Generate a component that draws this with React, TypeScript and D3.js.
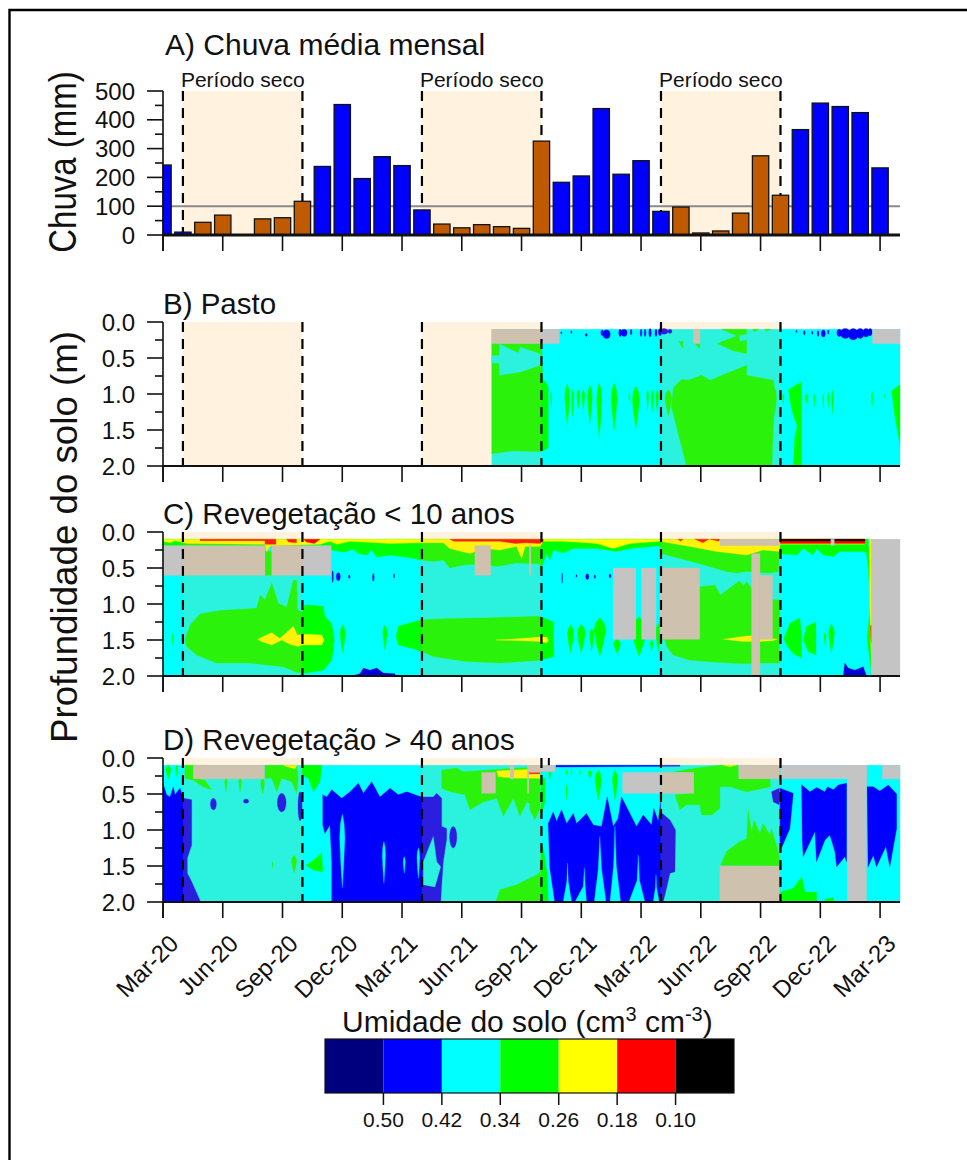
import React from "react";
import * as d3 from "d3";

// ---------- Rainfall (mm), one value per month from Mar-20 (month 0) ----------
const rainValues = [243,10,44,69,0,56,60,117,238,453,196,272,241,87,38,25,36,29,23,326,183,205,439,211,258,82,97,7,14,76,275,138,366,458,446,425,233];
const dryFlags = [0,0,1,1,1,1,1,1,0,0,0,0,0,0,1,1,1,1,1,1,0,0,0,0,0,0,1,1,1,1,1,1,0,0,0,0,0];
const rainTicks = [0,100,200,300,400,500];
const rainMinor = [50,150,250,350,450];
const depthTicks = [0,0.5,1,1.5,2];
const depthMinor = [0.25,0.75,1.25,1.75];
const monthTicks = [0,3,6,9,12,15,18,21,24,27,30,33,36];
const monthLabels = ["Mar-20","Jun-20","Sep-20","Dec-20","Mar-21","Jun-21","Sep-21","Dec-21","Mar-22","Jun-22","Sep-22","Dec-22","Mar-23"];
const dryPeriods = [[1,7],[13,19],[25,31]];
const legendColors = ["#00007F","#0000FF","#00FFFF","#00FF00","#FFFF00","#FF0000","#000000"];
const legendLabels = ["0.50","0.42","0.34","0.26","0.18","0.10"];

const BLUE="#0000FF", CYAN="#00FFFF", GREEN="#00FF00", YELLOW="#FFFF00", RED="#FF0000", BLACK="#000000", GREY="#C4C4C4", DBLUE="#0000D8";

type Layer = { c: string; polys?: number[][]; spindles?: number[][]; blobs?: number[][]; rects?: number[][] };

// ---------- B) Pasto: polygons are [month, depth, ...]; spindles [month, top, bottom, half width]; blobs [month, depth, rx, ry]; rects [m0, m1, d0, d1] ----------
const pastoGreenPolys = [
  [16.51,.3,19.0,.3,19.06,.78,19.34,.9,19.34,1.75,19.0,1.8,17.58,1.79,16.51,1.83],
  [25.62,.91,26.03,.8,26.37,.81,27.04,.74,27.46,.81,29.3,.6,29.3,.74,30.64,.81,30.72,.94,30.57,2,26.28,2,25.53,1.18],
  [28.04,.1,29.3,.1,29.3,.17,28.79,.19],
  [27.82,.3,28.93,.18,28.96,.27,29.3,.25,29.3,.44,28.63,.4],
  [25.9,.27,26.1,.27,26.1,.37],[26.7,.3,26.95,.3,26.95,.37],
  [29.6,.1,29.9,.1,29.7,.14],[30.2,.1,30.5,.1,30.3,.13],
  [31.39,.94,32.06,.83,32.06,2,31.64,2,31.72,1.59,31.84,1.45,31.56,1.22],
  [36.58,.96,36.96,.875,37,.875,37,1.7,36.74,1.31],
];
const pastoCyanPolys = [[16.51,.47,16.88,.47,16.91,.31,17.83,.43,17.95,.35,18.92,.44,19.0,.57,18.92,.6,18.0,.69,16.91,.74,16.88,.57,16.51,.57]];
const pastoSpindles = [[20.29,.86,1.43,.12],[20.56,.94,1.31,.05],[20.85,.94,1.2,.08],[21.1,.94,1.22,.07],[21.43,.875,1.41,.12],[21.9,.84,1.62,.13],[22.65,.85,1.5,.15],[23.74,.89,1.48,.18],[24.33,.94,1.22,.05],[24.56,.94,1.25,.05],[24.81,.94,1.25,.07],[19.49,.97,1.18,.03],[23.41,.99,1.11,.03],[25.37,.94,1.31,.17],[30.72,.92,1.3,.08],[31.14,1.0,1.14,.04],[32.31,1.0,1.13,.08],[32.69,1.0,1.18,.03],[33.15,1.0,1.2,.03],[33.4,.98,1.18,.03],[33.61,.95,1.27,.04],[35.6,.97,1.18,.03],[36.24,1.0,1.06,.02]];
const pastoBlueBlobs = [[20.0,.15,.03,.015],[20.5,.14,.03,.02],[21.25,.18,.05,.02],[22.05,.15,.07,.04],[22.27,.17,.18,.06],[22.95,.15,.07,.05],[23.15,.15,.15,.05],[23.5,.14,.04,.04],[24.0,.15,.04,.05],[24.2,.15,.04,.05],[24.45,.15,.06,.06],[24.75,.15,.05,.05],[24.95,.14,.08,.05],[25.15,.13,.2,.04],[25.45,.13,.1,.03],[31.8,.13,.03,.015],[32.2,.15,.04,.03],[32.6,.15,.03,.02],[32.89,.16,.04,.04],[33.15,.16,.1,.05],[33.4,.14,.03,.03],[33.95,.15,.12,.05],[34.25,.16,.25,.07],[34.65,.17,.25,.08],[35.0,.16,.2,.07],[35.3,.15,.15,.06],[35.5,.14,.1,.05]];
const pastoGreyRects = [[16.51,19.89,.1,.3],[26.62,26.96,.1,.3],[35.62,37,.1,.3]];
const pastoLayers: Layer[] = [
  {c:CYAN,rects:[[16.51,37,.1,2]]},
  {c:GREEN,polys:pastoGreenPolys},{c:CYAN,polys:pastoCyanPolys},{c:GREEN,spindles:pastoSpindles},
  {c:BLUE,blobs:pastoBlueBlobs},{c:GREY,rects:pastoGreyRects},
];

// ---------- C) Revegetação < 10 anos ----------
const c10TopGreen = [[0,.1,35.4,.1,35.4,.3,35.15,.27,33.98,.27,33.65,.34,33.15,.32,32.81,.23,32.64,.32,32.14,.23,31.81,.32,30.94,.3,30.89,.55,30.47,.57,29.3,.55,28.79,.57,28.29,.55,26.95,.44,25.03,.3,24.95,.19,23.44,.23,22.77,.27,21.77,.23,20.6,.23,20.09,.29,19.59,.25,19.42,.39,19.26,.3,18.92,.55,18.92,.44,17.75,.43,16.75,.48,16.08,.44,15.08,.46,14.4,.5,14.07,.39,13.57,.41,12.98,.39,12.23,.35,11.4,.32,10.73,.35,10.47,.25,10.22,.32,9.8,.3,9.55,.24,9.05,.28,8.47,.25,8.47,.19,0,.19]];
const c10TopYellow = [[0,.1,35.24,.1,35.24,.17,30.97,.17,30.94,.27,30.13,.25,29.3,.32,27.79,.27,26.45,.2,24.95,.13,23.44,.16,22.6,.23,21.77,.16,20.09,.13,19.09,.13,18.92,.2,18.18,.2,18.0,.37,17.75,.2,16.92,.25,16.08,.23,15.41,.3,14.4,.23,14.07,.15,12.98,.15,11.4,.16,9.39,.13,8.72,.17,8.38,.13,7.88,.17,5.4,.19,5.2,.27,5.12,.17,1.19,.16,.6,.12,.35,.15,0,.13]];
const c10TopRed = [[1.86,.1,5.67,.1,5.67,.17,5.12,.17,5.12,.12,1.86,.12],[6.2,.1,6.7,.1,6.7,.15,6.3,.14],[7.05,.1,7.88,.1,7.6,.16,7.2,.14],[14.4,.1,18.92,.1,18.92,.16,18.2,.15,17.7,.16,16.9,.13,14.6,.13],[18.92,.1,19.09,.1,19.09,.13,18.92,.16],[25.85,.1,26.1,.1,26.0,.13],[26.7,.1,27.4,.1,27.1,.15],[27.45,.1,27.96,.1,27.9,.13],[30.97,.1,35.24,.1,35.24,.16,30.97,.16],[35.52,1.3,35.57,1.3,35.57,1.55,35.54,1.5]];
const c10TopBlack = [[30.97,.1,35.24,.1,35.24,.125,30.97,.125]];
const c10GreenPolys = [
  [1.1,1.5,1.36,1.29,1.86,1.14,2.86,1.09,4.7,1.06,4.87,.875,5.12,.94,5.46,.71,5.79,.99,6.21,1.04,6.54,.67,6.71,.67,6.74,1.08,6.98,1.11,7.13,1.01,8.05,1.03,8.13,1.18,8.47,1.27,8.6,1.5,8.47,1.78,8.05,1.92,7.21,1.96,6.71,1.95,6.04,1.87,4.37,1.82,2.69,1.82,1.69,1.71,1.19,1.59],
  [11.7,1.45,11.81,1.31,12.3,1.27,12.98,1.22,14.41,1.2,16.42,1.19,18.92,1.17,19.59,1.25,19.63,1.73,18.92,1.78,16.92,1.82,15.24,1.8,13.57,1.73,12.98,1.66,12.57,1.62,11.81,1.57],
  [24.95,1.49,26.95,.76,27.71,.74,27.99,.875,28.93,.68,29.16,.74,29.3,.69,29.55,.78,30.6,.94,30.94,.94,30.94,1.82,29.97,1.82,29.13,1.83,27.79,1.81,26.45,1.78,25.62,1.71,25.28,1.59,25.2,1.49],
  [31.17,1.48,31.47,1.27,31.97,1.19,32.06,1.45,32.06,1.75,31.64,1.69,31.3,1.57],
  [32.14,1.5,32.31,1.31,32.78,1.25,32.78,1.71,32.39,1.66],
  [35.32,.3,35.4,.48,35.52,1.04,35.35,1.45,35.52,1.87,35.57,2,35.57,.1],
];
const c10Spindles = [[9.02,1.29,1.68,.13],[11.14,1.29,1.64,.11],[.47,1.41,1.57,.03],[20.46,1.29,1.68,.16],[21,1.28,1.68,.2],[21.52,1.34,1.66,.1],[21.93,1.19,1.73,.3],[22.8,1.49,1.69,.18],[23.9,1.18,1.73,.4],[24.53,1.5,1.66,.07],[24.86,1.27,1.66,.13],[33.23,1.4,1.57,.05],[33.56,1.28,1.68,.15]];
const c10YellowPolys = [
  [4.75,1.49,5.04,1.45,5.46,1.4,5.87,1.48,6.54,1.31,6.74,1.43,7.21,1.42,7.97,1.43,8.08,1.5,7.97,1.57,6.96,1.57,6.79,1.59,6.38,1.56,5.96,1.5,5.46,1.57,4.95,1.52],
  [16.7,1.5,18.0,1.48,18.92,1.46,19.26,1.46,19.35,1.5,19.26,1.54,18.92,1.52,18.0,1.51],
  [28.13,1.49,29.13,1.45,29.55,1.44,30.84,1.49,30.6,1.51,29.97,1.52,29.13,1.52],
  [35.45,.1,35.57,.1,35.57,1.95,35.52,1.45,35.49,1.04],
];
const c10BluePolys = [[9.47,2,9.89,1.97,10.06,1.89,10.39,1.92,10.73,1.89,11.06,1.96,11.65,1.97,11.65,2],[34.15,2,34.23,1.82,34.4,1.89,34.73,1.92,35.15,1.87,35.32,2]];
const c10BlueBlobs = [[8.52,.62,.03,.08],[8.8,.62,.1,.055],[9.35,.62,.04,.025],[10.56,.63,.04,.055],[11.6,.61,.025,.03],[20.04,.64,.015,.07],[21.3,.62,.08,.04],[21.68,.62,.04,.025],[22.44,.61,.05,.025],[20.76,.61,.03,.015]];
const c10GreyRects = [[0,5.12,.19,.6],[5.46,8.43,.19,.6],[15.66,16.45,.19,.6],[18.39,18.47,.19,.6],[22.6,23.74,.5,1.49],[24.03,24.75,.5,1.49],[24.95,26.95,.5,1.49],[27.96,30.94,.1,.19],[29.55,29.97,.3,2],[29.97,30.6,.6,1.49],[35.57,37,.1,2],[33.53,33.7,.1,.19]];
const c10GapGreen = [[5.12,5.46,.27,.6]];
const c10Layers: Layer[] = [
  {c:CYAN,rects:[[0,35.6,.1,2]]},
  {c:GREEN,polys:c10GreenPolys},{c:GREEN,spindles:c10Spindles},{c:YELLOW,polys:c10YellowPolys},
  {c:DBLUE,polys:c10BluePolys},{c:BLUE,blobs:c10BlueBlobs},
  {c:GREEN,polys:c10TopGreen},{c:GREEN,rects:c10GapGreen},{c:YELLOW,polys:c10TopYellow},{c:RED,polys:c10TopRed},{c:BLACK,polys:c10TopBlack},
  {c:GREY,rects:c10GreyRects},
];

// ---------- D) Revegetação > 40 anos ----------
const c40BluePolys = [
  [0,.35,.18,.51,.35,.54,.52,.4,.6,.51,.85,.42,1.02,.56,1.44,.58,1.44,1.21,1.22,1.39,1.22,1.6,1.44,1.72,1.89,2,0,2],
  [8.02,.51,8.22,.54,8.47,.44,8.97,.56,9.39,.47,9.81,.35,10.06,.49,10.48,.33,10.89,.54,11.4,.42,11.81,.51,12.23,.47,12.98,.54,13.57,.54,13.74,.49,13.99,.56,13.99,.95,14.24,.98,14.24,1.12,14.07,1.44,13.99,1.76,13.94,2,8.47,2,8.47,1.46,8.38,.93,8.13,1.05,8.02,.93],
  [19.34,.91,19.59,.75,19.76,.88,20.01,.72,20.26,.91,20.6,.77,20.76,.91,21.26,.77,21.6,.93,22.02,.95,22.3,.54,22.6,.95,22.85,.84,23.02,.54,23.77,.95,24.11,.79,24.53,.93,24.64,.7,24.86,.88,24.98,.61,24.98,2,19.67,2,19.42,1.53],
  [24.98,.75,25.45,.86,25.73,1.0,25.7,1.58,25.45,1.6,25.28,1.81,25.11,2,24.98,2],
  [30.55,.47,30.94,.42,30.94,.65,30.64,.61],
  [30.97,.42,31.64,.49,31.47,.98,31.05,1.25,30.97,1.16],
  [32.06,.37,32.48,.47,32.81,.41,33.23,.47,33.36,.4,33.65,.44,33.9,.375,34.32,.35,34.32,1.44,34.23,1.37,33.82,1.51,33.73,1.3,33.48,1.07,33.23,1.14,32.81,1.44,32.73,1.02,32.14,1.37,32.09,1.12],
  [35.35,.4,35.66,.4,35.99,.46,36.41,.375,36.83,.5,36.83,.98,36.49,1.51,36.29,1.23,35.82,1.51,35.66,1.35,35.4,1.51],
  [19.73,.1,25.95,.1,25.95,.115,19.73,.125],
];
const c40BlueBlobs = [[2.53,.64,.15,.08],[4.17,.6,.13,.03],[5.96,.62,.22,.13],[6.88,.67,.1,.2],[14.57,1.1,.18,.15],[26.7,.31,.04,.05],[27.12,.31,.09,.08],[27.37,.31,.07,.055],[27.59,.31,.05,.012]];
const c40CyanSpindles = [[9.0,.78,1.8,.13],[11.09,1.16,1.74,.08],[12.11,1.37,1.6,.05],[12.82,1.25,1.67,.07]];
const c40CyanPolys = [
  [13.07,1.76,13.07,1.44,13.57,1.09,13.74,1.44,13.94,1.51,13.65,1.79],
  [20.09,2,20.27,1.72,20.31,1.46,20.35,1.72,20.51,2],
  [20.68,2,21.1,1.78,21.15,1.53,21.2,1.78,21.26,2],
  [21.65,2,21.85,1.55,21.93,1.09,22.02,1.55,22.24,2],
  [22.44,2,22.62,1.5,22.69,.95,22.76,1.5,22.97,2],
  [23.39,2,23.8,1.7,23.86,1.35,23.92,1.7,24.19,2],
  [24.61,2,24.72,1.8,24.75,1.62,24.78,1.8,24.91,2],
];
const c40GreenPolys = [
  [1.1,.1,1.52,.1,1.52,.28,2.11,.31,2.44,.44,2.02,.4,1.52,.31,1.1,.28],
  [5.12,.1,6.71,.1,6.79,.28,6.71,.49,6.46,.33,5.96,.28,5.71,.47,5.46,.28,5.12,.28],
  [6.98,.1,7.97,.1,7.88,.33,7.55,.47,7.3,.28,6.98,.24],
  [7.18,1.49,7.55,1.42,7.97,1.32,8.02,1.58,7.55,1.56],
  [13.99,.17,14.74,.14,15.08,.19,18.92,.12,18.92,.7,18.26,.61,17.92,.81,17.59,.56,17.09,.81,16.75,.56,16.08,.61,15.41,.72,15.16,.51,14.41,.47,13.99,.42],
  [16.7,2,16.92,1.83,17.75,1.76,18.92,1.6,19.0,1.2,19.09,1.25,19.29,1.62,19.34,2],
  [18.42,.28,18.92,.28,18.92,.7,18.67,.86,18.42,.72],
  [18.97,.28,19.17,.28,19.17,.61,18.97,.84],
  [25.62,.19,26.79,.14,27.96,.1,28.88,.1,28.91,.29,30.47,.29,30.5,.4,29.3,.47,28.46,.4,27.96,.4,27.96,.7,27.54,.79,27.04,.79,26.95,.65,26.28,.65,25.95,.72,25.7,.51,26.65,.49,26.65,.2],
  [27.99,1.49,28.29,1.3,28.96,1.16,29.3,1.12,29.38,.72,29.55,1.02,29.67,.86,29.97,1.05,30.13,.91,30.47,1.07,30.55,.98,30.94,1.35,30.94,1.5],
  [31,1.86,31.64,1.81,32.06,1.65,32.23,1.86,32.81,1.86,32.81,2,31,2],
  [33.23,1.96,33.65,1.94,33.65,2,33.23,2],
];
const c40GreenSpindles = [[.27,.1,.29,.13],[.69,.1,.26,.05],[3.16,.28,.47,.06],[3.87,.28,.47,.07],[5,.28,.5,.1],[5.5,1.44,1.53,.03],[6.58,1.35,1.6,.13],[20.26,.37,.58,.03],[21.85,.17,.58,.16],[22.69,.17,.58,.13],[21.43,.17,.28,.08],[20.26,.17,.24,.03],[20.51,.17,.24,.03],[20.93,.17,.24,.03],[19.42,.17,.3,.05]];
const c40YellowPolys = [[6.04,.1,6.71,.1,6.63,.15,6.21,.12],[16.75,.18,18.92,.15,18.92,.28,17.75,.28,16.83,.26],[18.42,.2,18.92,.2,18.92,.28,18.42,.26],[28.13,.1,28.79,.1,28.46,.12]];
const c40RedPolys = [[18.34,.19,18.92,.19,18.92,.22,18.34,.22]];
const c40GreyRects = [[1.52,5.09,.1,.29],[16,16.7,.2,.49],[17.42,17.62,.1,.29],[18.29,18.92,.1,.2],[18.29,18.37,.2,.49],[18.42,19.68,.1,.19],[23.07,24.98,.2,.49],[24.98,26.65,.2,.49],[28.91,30.94,.1,.29],[27.96,30.94,1.5,2],[31,35.32,.1,.29],[34.35,35.32,.1,2],[36.12,37,.1,.29]];
const c40Layers: Layer[] = [
  {c:CYAN,rects:[[0,37,.1,2]]},
  {c:BLUE,polys:c40BluePolys},{c:BLUE,blobs:c40BlueBlobs},
  {c:CYAN,spindles:c40CyanSpindles},{c:CYAN,polys:c40CyanPolys},
  {c:GREEN,polys:c40GreenPolys},{c:GREEN,spindles:c40GreenSpindles},
  {c:YELLOW,polys:c40YellowPolys},{c:RED,polys:c40RedPolys},{c:GREY,rects:c40GreyRects},
];

// ---------- scales ----------
const x = d3.scaleLinear().domain([0,37]).range([163,900]);
const yRain = d3.scaleLinear().domain([0,500]).range([235,91]);
const yB = d3.scaleLinear().domain([0,2]).range([322,466]);
const yC = d3.scaleLinear().domain([0,2]).range([532,676]);
const yD = d3.scaleLinear().domain([0,2]).range([758,902]);
const xLegend = d3.scaleLinear().domain([0,7]).range([325,734]);

const FONT = "'Liberation Sans', Arial, sans-serif";
const OVERLAY = "rgb(255,180,60)";
const OVERLAY_ALPHA = 0.17;
const TICK_MAJOR = 16, TICK_MINOR = 8, TICK_X = 16;

function chunk(a:number[]){ const o:number[][]=[]; for(let i=0;i<a.length;i+=2) o.push([a[i],a[i+1]]); return o; }

function YAxis({scale,major,minor,fmt}:{scale:any,major:number[],minor:number[],fmt:(v:number)=>string}){
  const [a,b]=scale.range();
  const top=Math.min(a,b), bot=Math.max(a,b);
  return <g stroke="#111" strokeWidth={1.6}>
    <line x1={x(0)} x2={x(0)} y1={top} y2={bot+TICK_X}/>
    {major.map(v=><line key={v} x1={x(0)-TICK_MAJOR} x2={x(0)} y1={scale(v)} y2={scale(v)}/>)}
    {minor.map(v=><line key={v} x1={x(0)-TICK_MINOR} x2={x(0)} y1={scale(v)} y2={scale(v)}/>)}
    {major.map(v=><text key={v} x={135} y={scale(v)+8.5} textAnchor="end" stroke="none" fill="#111" fontSize={24}>{fmt(v)}</text>)}
  </g>;
}

function XAxis({y0,w}:{y0:number,w:number}){
  return <g stroke="#111">
    {monthTicks.map(m=><line key={m} x1={x(m)} x2={x(m)} y1={y0} y2={y0+TICK_X} strokeWidth={1.6}/>)}
    <line x1={x(0)} x2={x(37)} y1={y0} y2={y0} strokeWidth={w}/>
  </g>;
}

function Dashes({y0,y1}:{y0:number,y1:number}){
  return <g stroke="#000" strokeWidth={2.2} strokeDasharray="10 7">
    {dryPeriods.flat().map(m=><line key={m} x1={x(m)} x2={x(m)} y1={y0} y2={y1}/>)}
  </g>;
}

function Contour({y,layers}:{y:any,layers:Layer[]}){
  const line = d3.line<number[]>().x(p=>x(p[0])).y(p=>y(p[1])).curve(d3.curveLinearClosed);
  return <g>
    {layers.map((l,i)=><g key={i} fill={l.c} stroke={l.c} strokeWidth={0.3}>
      {l.rects?.map((r,j)=><rect key={j} x={x(r[0])} width={x(r[1])-x(r[0])} y={y(r[2])} height={y(r[3])-y(r[2])}/>)}
      {l.polys?.map((p,j)=><path key={j} d={line(chunk(p))!}/>)}
      {l.spindles?.map((s,j)=>{
        const at=(f:number)=>s[1]+(s[2]-s[1])*f;
        return <path key={j} d={line([[s[0],s[1]],[s[0]+s[3]*.7,at(.13)],[s[0]+s[3],at(.32)],[s[0]+s[3]*.6,at(.65)],[s[0],s[2]],[s[0]-s[3]*.6,at(.65)],[s[0]-s[3],at(.32)],[s[0]-s[3]*.7,at(.13)]])!}/>;
      })}
      {l.blobs?.map((b,j)=><ellipse key={j} cx={x(b[0])} cy={y(b[1])} rx={x(b[0]+b[2])-x(b[0])} ry={y(b[1]+b[3])-y(b[1])}/>)}
    </g>)}
  </g>;
}

function DepthPanel({y,layers,title,titleY,extra}:{y:any,layers:Layer[],title:string,titleY:number,extra?:React.ReactNode}){
  const [t,b]=y.range();
  return <g>
    <text x={163} y={titleY} fontSize={29.5} fill="#111">{title}</text>
    <Contour y={y} layers={layers}/>
    {dryPeriods.map(([a,c])=><rect key={a} x={x(a)} width={x(c)-x(a)} y={t} height={b-t} fill={OVERLAY} fillOpacity={OVERLAY_ALPHA}/>)}
    <Dashes y0={t} y1={b}/>
    {extra}
    <YAxis scale={y} major={depthTicks} minor={depthMinor} fmt={v=>v.toFixed(1)}/>
    <XAxis y0={b} w={2}/>
  </g>;
}

export default function App(){
  const w = x(0.41)-x(0);
  return <svg width={967} height={1160} viewBox="0 0 967 1160" style={{position:"absolute",left:0,top:0,display:"block",background:"#fff"}} fontFamily={FONT}>
    <path d="M9.5 1160V10H967" fill="none" stroke="#000" strokeWidth={2.4}/>

    {/* A */}
    <text x={165} y={55} fontSize={30} fill="#111">A) Chuva média mensal</text>
    {dryPeriods.map(([a,c])=><g key={a}>
      <rect x={x(a)} width={x(c)-x(a)} y={yRain(500)} height={yRain(0)-yRain(500)} fill={OVERLAY} fillOpacity={OVERLAY_ALPHA}/>
      <text x={x(a)-2} y={87} fontSize={21} fill="#111">Período seco</text>
    </g>)}
    <Dashes y0={yRain(500)} y1={yRain(0)}/>
    <line x1={x(0)} x2={x(37)} y1={yRain(100)} y2={yRain(100)} stroke="#8a8a8a" strokeWidth={2}/>
    <g stroke="#111" strokeWidth={1.3}>
      {rainValues.map((v,i)=>{
        const l=Math.max(x(0),x(i)-w), r=x(i)+w;
        return <rect key={i} x={l} width={r-l} y={yRain(v)} height={yRain(0)-yRain(v)} fill={dryFlags[i]?"#BF5A00":"#0000FF"}/>;
      })}
    </g>
    <YAxis scale={yRain} major={rainTicks} minor={rainMinor} fmt={v=>String(v)}/>
    <XAxis y0={yRain(0)} w={3}/>
    <text transform="translate(76,162) rotate(-90) scale(1,1.15)" textAnchor="middle" fontSize={33} fill="#111">Chuva (mm)</text>

    <DepthPanel y={yB} layers={pastoLayers} title="B) Pasto" titleY={314}/>
    <DepthPanel y={yC} layers={c10Layers} title="C) Revegetação < 10 anos" titleY={524}/>
    <DepthPanel y={yD} layers={c40Layers} title="D) Revegetação > 40 anos" titleY={750}
      extra={<line x1={x(19.37)} x2={x(19.37)} y1={yD(0)} y2={yD(0.1)} stroke="#000" strokeWidth={2}/>}/>
    <text transform="translate(77,537) rotate(-90)" textAnchor="middle" fontSize={36.7} fill="#111">Profundidade do solo (m)</text>

    {monthTicks.map((m,i)=><text key={m} transform={`translate(${x(m)+17},${yD(2)+43}) rotate(-45)`} textAnchor="end" fontSize={24} fill="#111">{monthLabels[i]}</text>)}

    {/* colour key */}
    <text x={342} y={1032} fontSize={30} fill="#111">Umidade do solo (cm<tspan dy={-11} fontSize={20}>3</tspan><tspan dy={11}> cm</tspan><tspan dy={-11} fontSize={20}>-3</tspan><tspan dy={11}>)</tspan></text>
    {legendColors.map((c,i)=><rect key={c} x={xLegend(i)} width={xLegend(i+1)-xLegend(i)} y={1039} height={54} fill={c}/>)}
    <rect x={xLegend(0)} y={1039} width={xLegend(7)-xLegend(0)} height={54} fill="none" stroke="#111" strokeWidth={1.2}/>
    {legendLabels.map((t,i)=><g key={t}>
      <line x1={xLegend(i+1)} x2={xLegend(i+1)} y1={1093} y2={1105} stroke="#111" strokeWidth={1.5}/>
      <text x={xLegend(i+1)} y={1127} textAnchor="middle" fontSize={21} fill="#111">{t}</text>
    </g>)}
  </svg>;
}
